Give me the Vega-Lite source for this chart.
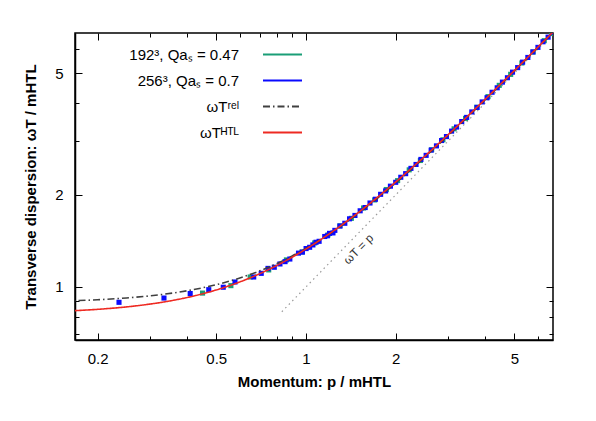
{
  "$schema": "https://vega.github.io/schema/vega-lite/v6.json",
  "width": 478,
  "height": 307,
  "autosize": {"type": "none"},
  "padding": {"left": 75, "top": 33, "right": 43, "bottom": 81},
  "background": "#ffffff",
  "config": {
    "font": "Liberation Sans",
    "view": {"stroke": "#000000", "strokeWidth": 1.5},
    "axis": {"grid": false, "domainColor": "#000000", "domainWidth": 1.5, "tickColor": "#000000", "tickWidth": 1, "labelColor": "#000000", "labelFont": "Liberation Sans", "labelFontSize": 15, "titleFont": "Liberation Sans", "titleFontSize": 15, "titleFontWeight": "bold", "titleColor": "#000000"}
  },
  "datasets": {
    "points": [
      {"series": "192³, Qaₛ = 0.47", "p": 0.45, "w": 0.955},
      {"series": "192³, Qaₛ = 0.47", "p": 0.56, "w": 1.010},
      {"series": "192³, Qaₛ = 0.47", "p": 0.65, "w": 1.078},
      {"series": "192³, Qaₛ = 0.47", "p": 0.75, "w": 1.137},
      {"series": "192³, Qaₛ = 0.47", "p": 0.86, "w": 1.226},
      {"series": "192³, Qaₛ = 0.47", "p": 0.97, "w": 1.301},
      {"series": "192³, Qaₛ = 0.47", "p": 1.07, "w": 1.393},
      {"series": "192³, Qaₛ = 0.47", "p": 1.185, "w": 1.479},
      {"series": "192³, Qaₛ = 0.47", "p": 1.30, "w": 1.584},
      {"series": "192³, Qaₛ = 0.47", "p": 1.42, "w": 1.676},
      {"series": "192³, Qaₛ = 0.47", "p": 1.56, "w": 1.812},
      {"series": "192³, Qaₛ = 0.47", "p": 1.70, "w": 1.925},
      {"series": "192³, Qaₛ = 0.47", "p": 1.86, "w": 2.082},
      {"series": "192³, Qaₛ = 0.47", "p": 2.03, "w": 2.226},
      {"series": "192³, Qaₛ = 0.47", "p": 2.22, "w": 2.414},
      {"series": "192³, Qaₛ = 0.47", "p": 2.42, "w": 2.590},
      {"series": "192³, Qaₛ = 0.47", "p": 2.64, "w": 2.809},
      {"series": "192³, Qaₛ = 0.47", "p": 2.88, "w": 3.027},
      {"series": "192³, Qaₛ = 0.47", "p": 3.14, "w": 3.287},
      {"series": "192³, Qaₛ = 0.47", "p": 3.43, "w": 3.556},
      {"series": "192³, Qaₛ = 0.47", "p": 3.74, "w": 3.866},
      {"series": "192³, Qaₛ = 0.47", "p": 4.08, "w": 4.188},
      {"series": "192³, Qaₛ = 0.47", "p": 4.45, "w": 4.559},
      {"series": "192³, Qaₛ = 0.47", "p": 4.86, "w": 4.951},
      {"series": "192³, Qaₛ = 0.47", "p": 5.30, "w": 5.394},
      {"series": "192³, Qaₛ = 0.47", "p": 5.78, "w": 5.857},
      {"series": "192³, Qaₛ = 0.47", "p": 6.30, "w": 6.381},
      {"series": "192³, Qaₛ = 0.47", "p": 6.66, "w": 6.735},
      {"series": "256³, Qaₛ = 0.7", "p": 0.236, "w": 0.891},
      {"series": "256³, Qaₛ = 0.7", "p": 0.334, "w": 0.920},
      {"series": "256³, Qaₛ = 0.7", "p": 0.409, "w": 0.952},
      {"series": "256³, Qaₛ = 0.7", "p": 0.472, "w": 0.980},
      {"series": "256³, Qaₛ = 0.7", "p": 0.528, "w": 0.998},
      {"series": "256³, Qaₛ = 0.7", "p": 0.578, "w": 1.038},
      {"series": "256³, Qaₛ = 0.7", "p": 0.668, "w": 1.078},
      {"series": "256³, Qaₛ = 0.7", "p": 0.708, "w": 1.108},
      {"series": "256³, Qaₛ = 0.7", "p": 0.746, "w": 1.150},
      {"series": "256³, Qaₛ = 0.7", "p": 0.783, "w": 1.160},
      {"series": "256³, Qaₛ = 0.7", "p": 0.818, "w": 1.189},
      {"series": "256³, Qaₛ = 0.7", "p": 0.851, "w": 1.210},
      {"series": "256³, Qaₛ = 0.7", "p": 0.883, "w": 1.234},
      {"series": "256³, Qaₛ = 0.7", "p": 0.944, "w": 1.290},
      {"series": "256³, Qaₛ = 0.7", "p": 0.973, "w": 1.300},
      {"series": "256³, Qaₛ = 0.7", "p": 1.001, "w": 1.335},
      {"series": "256³, Qaₛ = 0.7", "p": 1.029, "w": 1.348},
      {"series": "256³, Qaₛ = 0.7", "p": 1.055, "w": 1.372},
      {"series": "256³, Qaₛ = 0.7", "p": 1.081, "w": 1.400},
      {"series": "256³, Qaₛ = 0.7", "p": 1.107, "w": 1.410},
      {"series": "256³, Qaₛ = 0.7", "p": 1.156, "w": 1.462},
      {"series": "256³, Qaₛ = 0.7", "p": 1.180, "w": 1.470},
      {"series": "256³, Qaₛ = 0.7", "p": 1.20, "w": 1.497},
      {"series": "256³, Qaₛ = 0.7", "p": 1.232, "w": 1.502},
      {"series": "256³, Qaₛ = 0.7", "p": 1.25, "w": 1.531},
      {"series": "256³, Qaₛ = 0.7", "p": 1.30, "w": 1.582},
      {"series": "256³, Qaₛ = 0.7", "p": 1.35, "w": 1.615},
      {"series": "256³, Qaₛ = 0.7", "p": 1.40, "w": 1.670},
      {"series": "256³, Qaₛ = 0.7", "p": 1.46, "w": 1.713},
      {"series": "256³, Qaₛ = 0.7", "p": 1.52, "w": 1.774},
      {"series": "256³, Qaₛ = 0.7", "p": 1.58, "w": 1.818},
      {"series": "256³, Qaₛ = 0.7", "p": 1.64, "w": 1.881},
      {"series": "256³, Qaₛ = 0.7", "p": 1.71, "w": 1.935},
      {"series": "256³, Qaₛ = 0.7", "p": 1.78, "w": 2.008},
      {"series": "256³, Qaₛ = 0.7", "p": 1.85, "w": 2.060},
      {"series": "256³, Qaₛ = 0.7", "p": 1.92, "w": 2.135},
      {"series": "256³, Qaₛ = 0.7", "p": 2.00, "w": 2.198},
      {"series": "256³, Qaₛ = 0.7", "p": 2.08, "w": 2.283},
      {"series": "256³, Qaₛ = 0.7", "p": 2.16, "w": 2.346},
      {"series": "256³, Qaₛ = 0.7", "p": 2.25, "w": 2.441},
      {"series": "256³, Qaₛ = 0.7", "p": 2.34, "w": 2.514},
      {"series": "256³, Qaₛ = 0.7", "p": 2.43, "w": 2.611},
      {"series": "256³, Qaₛ = 0.7", "p": 2.53, "w": 2.692},
      {"series": "256³, Qaₛ = 0.7", "p": 2.63, "w": 2.800},
      {"series": "256³, Qaₛ = 0.7", "p": 2.74, "w": 2.891},
      {"series": "256³, Qaₛ = 0.7", "p": 2.85, "w": 3.010},
      {"series": "256³, Qaₛ = 0.7", "p": 2.96, "w": 3.101},
      {"series": "256³, Qaₛ = 0.7", "p": 3.08, "w": 3.231},
      {"series": "256³, Qaₛ = 0.7", "p": 3.20, "w": 3.331},
      {"series": "256³, Qaₛ = 0.7", "p": 3.33, "w": 3.472},
      {"series": "256³, Qaₛ = 0.7", "p": 3.46, "w": 3.582},
      {"series": "256³, Qaₛ = 0.7", "p": 3.60, "w": 3.733},
      {"series": "256³, Qaₛ = 0.7", "p": 3.75, "w": 3.862},
      {"series": "256³, Qaₛ = 0.7", "p": 3.90, "w": 4.025},
      {"series": "256³, Qaₛ = 0.7", "p": 4.05, "w": 4.154},
      {"series": "256³, Qaₛ = 0.7", "p": 4.21, "w": 4.328},
      {"series": "256³, Qaₛ = 0.7", "p": 4.38, "w": 4.476},
      {"series": "256³, Qaₛ = 0.7", "p": 4.56, "w": 4.671},
      {"series": "256³, Qaₛ = 0.7", "p": 4.74, "w": 4.828},
      {"series": "256³, Qaₛ = 0.7", "p": 4.93, "w": 5.035},
      {"series": "256³, Qaₛ = 0.7", "p": 5.13, "w": 5.210},
      {"series": "256³, Qaₛ = 0.7", "p": 5.33, "w": 5.429},
      {"series": "256³, Qaₛ = 0.7", "p": 5.55, "w": 5.624},
      {"series": "256³, Qaₛ = 0.7", "p": 5.77, "w": 5.864},
      {"series": "256³, Qaₛ = 0.7", "p": 6.00, "w": 6.067},
      {"series": "256³, Qaₛ = 0.7", "p": 6.24, "w": 6.328},
      {"series": "256³, Qaₛ = 0.7", "p": 6.49, "w": 6.552},
      {"series": "256³, Qaₛ = 0.7", "p": 6.72, "w": 6.800}
    ],
    "curves": [
      {"series": "ωTʳᵉˡ", "p": 0.138, "w": 0.8967},
      {"series": "ωTʳᵉˡ", "p": 0.168, "w": 0.9019},
      {"series": "ωTʳᵉˡ", "p": 0.2, "w": 0.9083},
      {"series": "ωTʳᵉˡ", "p": 0.25, "w": 0.9206},
      {"series": "ωTʳᵉˡ", "p": 0.3, "w": 0.9354},
      {"series": "ωTʳᵉˡ", "p": 0.4, "w": 0.9721},
      {"series": "ωTʳᵉˡ", "p": 0.5, "w": 1.0173},
      {"series": "ωTʳᵉˡ", "p": 0.6, "w": 1.0700},
      {"series": "ωTʳᵉˡ", "p": 0.7, "w": 1.1292},
      {"series": "ωTʳᵉˡ", "p": 0.85, "w": 1.2278},
      {"series": "ωTʳᵉˡ", "p": 1.0, "w": 1.3360},
      {"series": "ωTʳᵉˡ", "p": 1.2, "w": 1.4916},
      {"series": "ωTʳᵉˡ", "p": 1.5, "w": 1.7421},
      {"series": "ωTʳᵉˡ", "p": 2.0, "w": 2.1875},
      {"series": "ωTʳᵉˡ", "p": 2.5, "w": 2.6524},
      {"series": "ωTʳᵉˡ", "p": 3.0, "w": 3.1281},
      {"series": "ωTʳᵉˡ", "p": 4.0, "w": 4.0970},
      {"series": "ωTʳᵉˡ", "p": 5.0, "w": 5.0779},
      {"series": "ωTʳᵉˡ", "p": 7.0, "w": 7.0558},
      {"series": "ωTᴴᵀᴸ", "p": 0.1384, "w": 0.8304},
      {"series": "ωTᴴᵀᴸ", "p": 0.1673, "w": 0.8367},
      {"series": "ωTᴴᵀᴸ", "p": 0.2122, "w": 0.8487},
      {"series": "ωTᴴᵀᴸ", "p": 0.2455, "w": 0.8592},
      {"series": "ωTᴴᵀᴸ", "p": 0.2920, "w": 0.8761},
      {"series": "ωTᴴᵀᴸ", "p": 0.3624, "w": 0.9061},
      {"series": "ωTᴴᵀᴸ", "p": 0.4260, "w": 0.9373},
      {"series": "ωTᴴᵀᴸ", "p": 0.4845, "w": 0.9690},
      {"series": "ωTᴴᵀᴸ", "p": 0.5648, "w": 1.0166},
      {"series": "ωTᴴᵀᴸ", "p": 0.6178, "w": 1.0503},
      {"series": "ωTᴴᵀᴸ", "p": 0.6841, "w": 1.0945},
      {"series": "ωTᴴᵀᴸ", "p": 0.7700, "w": 1.1550},
      {"series": "ωTᴴᵀᴸ", "p": 0.8874, "w": 1.2423},
      {"series": "ωTᴴᵀᴸ", "p": 0.9646, "w": 1.3022},
      {"series": "ωTᴴᵀᴸ", "p": 1.0608, "w": 1.3790},
      {"series": "ωTᴴᵀᴸ", "p": 1.1851, "w": 1.4814},
      {"series": "ωTᴴᵀᴸ", "p": 1.3543, "w": 1.6251},
      {"series": "ωTᴴᵀᴸ", "p": 1.6031, "w": 1.8435},
      {"series": "ωTᴴᵀᴸ", "p": 1.8228, "w": 2.0416},
      {"series": "ωTᴴᵀᴸ", "p": 2.0217, "w": 2.2239},
      {"series": "ωTᴴᵀᴸ", "p": 2.1453, "w": 2.3384},
      {"series": "ωTᴴᵀᴸ", "p": 2.4677, "w": 2.6404},
      {"series": "ωTᴴᵀᴸ", "p": 2.9676, "w": 3.1160},
      {"series": "ωTᴴᵀᴸ", "p": 3.3482, "w": 3.4821},
      {"series": "ωTᴴᵀᴸ", "p": 3.9051, "w": 4.0222},
      {"series": "ωTᴴᵀᴸ", "p": 4.8373, "w": 4.9340},
      {"series": "ωTᴴᵀᴸ", "p": 6.3108, "w": 6.3865},
      {"series": "ωTᴴᵀᴸ", "p": 6.9335, "w": 7.0028}
    ],
    "diag": [
      {"p": 0.83, "w": 0.83},
      {"p": 7.0, "w": 7.0}
    ],
    "note": [
      {"p": 1.50, "w": 1.33, "label": "ωT = p"}
    ]
  },
  "layer": [
    {
      "data": {"name": "diag"},
      "mark": {"type": "line", "clip": true, "color": "#9a9a9a", "strokeWidth": 1.2, "strokeDash": [1.5, 3.5]},
      "encoding": {
        "x": {"field": "p", "type": "quantitative", "scale": {"type": "log", "domain": [0.168, 6.74], "nice": false, "zero": false},
          "axis": {"orient": "top", "title": null, "labels": false, "domain": false, "values": [0.2,0.3,0.4,0.5,0.6,0.7,0.8,0.9,1,2,3,4,5,6],
            "tickSize": {"condition": {"test": "indexof([0.2,0.5,1,2,5], datum.value) >= 0", "value": -7}, "value": -4}}},
        "y": {"field": "w", "type": "quantitative", "scale": {"type": "log", "domain": [0.671, 6.76], "nice": false, "zero": false},
          "axis": {"orient": "right", "title": null, "labels": false, "domain": false, "values": [0.7,0.8,0.9,1,2,3,4,5,6],
            "tickSize": {"condition": {"test": "indexof([1,2,5], datum.value) >= 0", "value": -7}, "value": -4}}}
      }
    },
    {
      "data": {"name": "points"},
      "mark": {"type": "square", "clip": true, "opacity": 1, "size": 26},
      "encoding": {
        "x": {"field": "p", "type": "quantitative",
          "axis": {"orient": "bottom", "title": "Momentum: p / mHTL", "titlePadding": 8, "labelPadding": 18, "values": [0.2,0.3,0.4,0.5,0.6,0.7,0.8,0.9,1,2,3,4,5,6], "format": "~g",
            "labelExpr": "indexof([0.2,0.5,1,2,5], datum.value) >= 0 ? datum.label : ''",
            "tickSize": {"condition": {"test": "indexof([0.2,0.5,1,2,5], datum.value) >= 0", "value": -7}, "value": -4}}},
        "y": {"field": "w", "type": "quantitative",
          "axis": {"orient": "left", "title": "Transverse dispersion: ωT / mHTL", "titlePadding": 16, "labelPadding": 19, "values": [0.7,0.8,0.9,1,2,3,4,5,6], "format": "~g",
            "labelExpr": "indexof([1,2,5], datum.value) >= 0 ? datum.label : ''",
            "tickSize": {"condition": {"test": "indexof([1,2,5], datum.value) >= 0", "value": -7}, "value": -4}}},
        "color": {"field": "series", "type": "nominal",
          "scale": {"domain": ["192³, Qaₛ = 0.47", "256³, Qaₛ = 0.7", "ωTʳᵉˡ", "ωTᴴᵀᴸ"], "range": ["#1a9e77", "#0a0aff", "#404040", "#ee2a22"]},
          "legend": {"title": null, "orient": "none", "legendX": 200, "legendY": 14, "symbolType": "M-3,0H3", "symbolSize": 169, "symbolStrokeWidth": 2, "labelAlign": "right", "labelOffset": -51, "labelFontSize": 15, "labelFont": "Liberation Sans", "labelColor": "#000000", "rowPadding": 10,
            "encode": {"symbols": {"update": {"stroke": {"scale": "color", "field": "value"}}}}}
        },
        "order": {"field": "series", "sort": "ascending"}
      }
    },
    {
      "data": {"name": "curves"},
      "mark": {"type": "line", "clip": true, "strokeWidth": 1.6, "interpolate": "monotone"},
      "encoding": {
        "x": {"field": "p", "type": "quantitative", "axis": null},
        "y": {"field": "w", "type": "quantitative", "axis": null},
        "color": {"field": "series", "type": "nominal"},
        "strokeDash": {"field": "series", "type": "nominal",
          "scale": {"domain": ["192³, Qaₛ = 0.47", "256³, Qaₛ = 0.7", "ωTʳᵉˡ", "ωTᴴᵀᴸ"], "range": [[1, 0], [1, 0], [7, 3, 1.5, 3], [1, 0]]}}
      }
    },
    {
      "data": {"name": "note"},
      "mark": {"type": "text", "angle": 315, "fontSize": 12, "color": "#333333", "font": "Liberation Sans", "align": "center", "baseline": "middle"},
      "encoding": {
        "x": {"field": "p", "type": "quantitative", "axis": null},
        "y": {"field": "w", "type": "quantitative", "axis": null},
        "text": {"field": "label"}
      }
    }
  ],
  "resolve": {"axis": {"x": "independent", "y": "independent"}}
}
